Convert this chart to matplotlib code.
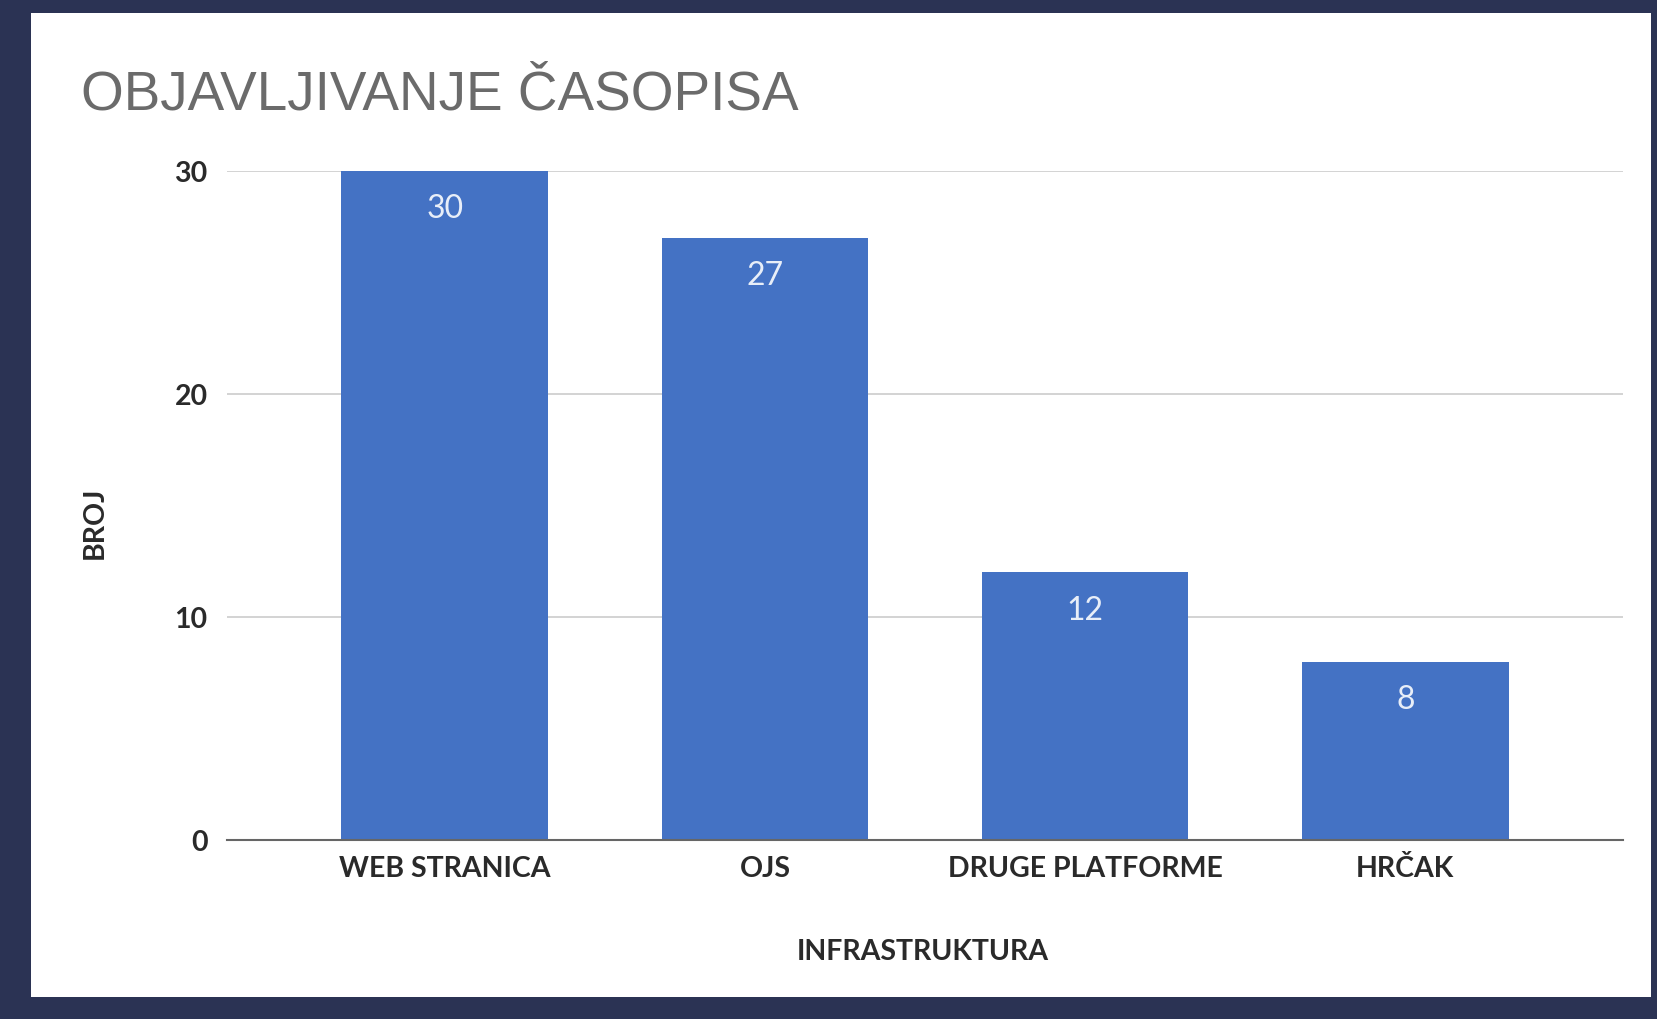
import matplotlib
matplotlib.use("Agg")
import matplotlib.pyplot as plt
from matplotlib.patches import Rectangle

categories = ["WEB STRANICA", "OJS", "DRUGE PLATFORME", "HRČAK"]
values = [30, 27, 12, 8]
yticks = [0, 10, 20, 30]
title = "OBJAVLJIVANJE ČASOPISA"
xlabel = "INFRASTRUKTURA"
ylabel = "BROJ"

W, H = 1658, 1020
fig = plt.figure(figsize=(W / 100, H / 100), dpi=100)
fig.patch.set_facecolor("#2B3354")

# white panel
fig.patches.append(Rectangle((31 / W, 1 - 998 / H), (1651 - 31) / W, (998 - 14) / H,
                             transform=fig.transFigure, facecolor="white",
                             edgecolor="none", zorder=-5))

ax = fig.add_axes([227 / W, 1 - 841 / H, (1623 - 227) / W, (841 - 172) / H])
ax.set_zorder(2)
ax.set_facecolor("none")
x = list(range(len(categories)))
bars = ax.bar(x, values, width=0.645, color="#4472C4", zorder=3)
ax.set_xlim(-0.68, 3.68)
ax.set_ylim(0, 30)
ax.set_yticks(yticks)
ax.set_xticks(x)
ax.set_xticklabels(categories)
for s in ["top", "right", "left"]:
    ax.spines[s].set_visible(False)
ax.spines["bottom"].set_color("#666666")
ax.spines["bottom"].set_linewidth(1.5)
ax.spines["bottom"].set_zorder(4)
ax.grid(axis="y", color="#CCCCCC", linewidth=1.2, zorder=0)
ax.tick_params(axis="both", length=0, labelsize=20.5, colors="#2A2A2A")
ax.tick_params(axis="x", pad=11)
ax.tick_params(axis="y", pad=14)
for lab in ax.get_xticklabels() + ax.get_yticklabels():
    lab.set_family("Lato")
    lab.set_fontweight("bold")

for xi, v in zip(x, values):
    ax.annotate(str(v), (xi, v), xytext=(0, -27), textcoords="offset points",
                ha="center", va="center", color="#E8EEF8", fontsize=23,
                family="Lato", zorder=5)

fig.text(81 / W, 1 - 95 / H, title, ha="left", va="center", fontsize=39.5,
         color="#6B6B6B", family="Liberation Sans")
fig.text(923 / W, 1 - 952 / H, xlabel, ha="center", va="center", fontsize=20.5,
         color="#2A2A2A", family="Lato", fontweight="bold")
fig.text(95 / W, 1 - 523 / H, ylabel, ha="center", va="center", fontsize=20.5,
         color="#2A2A2A", family="Lato", fontweight="bold", rotation=90)

fig.savefig("out.png", dpi=100, facecolor=fig.get_facecolor())
